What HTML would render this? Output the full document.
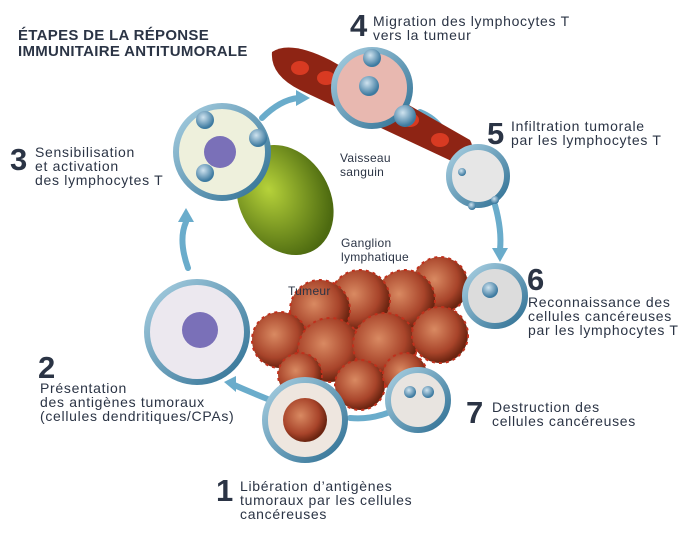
<!DOCTYPE html>
<html><head><meta charset="utf-8"><style>
body{margin:0;background:#fff;}
svg{display:block}
text{font-family:"Liberation Sans",sans-serif;fill:#2b3445}
.l{font-size:14px;letter-spacing:0.7px}
.s{font-size:12px;letter-spacing:0.3px}
.n{font-size:31px;font-weight:bold}
</style></head><body>
<svg width="687" height="539" viewBox="0 0 687 539" xmlns="http://www.w3.org/2000/svg">
<defs>
<radialGradient id="tum" cx="40%" cy="40%" r="60%"><stop offset="0" stop-color="#d98a62"/><stop offset="0.7" stop-color="#a8442a"/><stop offset="1" stop-color="#6b2410"/></radialGradient>
<radialGradient id="tc" cx="40%" cy="35%" r="60%"><stop offset="0" stop-color="#cfe3ef"/><stop offset="1" stop-color="#3d7aa0"/></radialGradient>
<linearGradient id="ring" x1="0" y1="0" x2="1" y2="1"><stop offset="0" stop-color="#a9d0e2"/><stop offset="1" stop-color="#2e6f93"/></linearGradient>
<radialGradient id="gn" cx="40%" cy="35%" r="65%"><stop offset="0" stop-color="#b6d23a"/><stop offset="1" stop-color="#4d6a10"/></radialGradient>
</defs>
<g fill="none" stroke="#6aaccb" stroke-width="6" stroke-linecap="round">
<path d="M188 268 Q178 240 186 222"/>
<path d="M262 118 Q280 100 298 98"/>
<path d="M420 112 Q440 120 448 140"/>
<path d="M495 205 Q502 230 500 250"/>
<path d="M270 400 Q250 392 232 384"/>
<path d="M390 412 Q370 420 350 418"/>
</g>
<g fill="#6aaccb">
<polygon points="178,222 194,222 186,208"/>
<polygon points="296,90 310,98 296,106"/>
<polygon points="440,140 456,140 450,154"/>
<polygon points="492,248 508,248 500,262"/>
<polygon points="236,376 236,392 224,382"/>
</g>
<path d="M272 52 Q290 40 330 60 L470 140 Q478 155 460 165 L300 90 Q270 75 272 52Z" fill="#8e2414"/>
<g fill="#d83a22"><ellipse cx="300" cy="68" rx="9" ry="7"/><ellipse cx="326" cy="78" rx="9" ry="7"/><ellipse cx="410" cy="120" rx="9" ry="7"/><ellipse cx="440" cy="140" rx="9" ry="7"/></g>
<ellipse cx="285" cy="200" rx="45" ry="58" transform="rotate(-30 285 200)" fill="url(#gn)"/>
<g fill="url(#tum)" stroke="#c0301c" stroke-width="2" stroke-dasharray="3 4">
<circle cx="440" cy="285" r="28"/><circle cx="405" cy="300" r="30"/><circle cx="360" cy="300" r="30"/><circle cx="320" cy="310" r="30"/>
<circle cx="280" cy="340" r="28"/><circle cx="330" cy="350" r="32"/><circle cx="385" cy="345" r="32"/><circle cx="440" cy="335" r="28"/>
<circle cx="360" cy="385" r="25"/><circle cx="405" cy="375" r="22"/><circle cx="300" cy="375" r="22"/>
</g>
<g stroke="url(#ring)" stroke-width="6">
<circle cx="222" cy="152" r="46" fill="#eef0dc"/>
<circle cx="372" cy="88" r="38" fill="#e8b8b0"/>
<circle cx="478" cy="176" r="29" fill="#e6e6e6"/>
<circle cx="495" cy="296" r="30" fill="#dcdcdc"/>
<circle cx="418" cy="400" r="30" fill="#e8e4e0"/>
<circle cx="305" cy="420" r="40" fill="#eee6df"/>
<circle cx="197" cy="332" r="50" fill="#ece8ef"/>
</g>
<circle cx="220" cy="152" r="16" fill="#7a70b8"/>
<circle cx="200" cy="330" r="18" fill="#7a70b8"/>
<circle cx="305" cy="420" r="22" fill="url(#tum)"/>
<g fill="url(#tc)">
<circle cx="205" cy="120" r="9"/><circle cx="258" cy="138" r="9"/><circle cx="205" cy="173" r="9"/>
<circle cx="372" cy="58" r="9"/><circle cx="369" cy="86" r="10"/><circle cx="405" cy="116" r="11"/>
<circle cx="462" cy="172" r="4"/><circle cx="495" cy="200" r="4"/><circle cx="472" cy="206" r="4"/>
<circle cx="490" cy="290" r="8"/><circle cx="410" cy="392" r="6"/><circle cx="428" cy="392" r="6"/>
</g>
<text x="18" y="40" style="font-size:15px;font-weight:bold;letter-spacing:0.3px">ÉTAPES DE LA RÉPONSE</text>
<text x="18" y="56" style="font-size:15px;font-weight:bold;letter-spacing:0.3px">IMMUNITAIRE ANTITUMORALE</text>
<text class="n" x="350" y="36">4</text>
<text class="l" x="373" y="26">Migration des lymphocytes T</text>
<text class="l" x="373" y="40">vers la tumeur</text>
<text class="n" x="10" y="170">3</text>
<text class="l" x="35" y="157">Sensibilisation</text>
<text class="l" x="35" y="171">et activation</text>
<text class="l" x="35" y="185">des lymphocytes T</text>
<text class="n" x="487" y="144">5</text>
<text class="l" x="511" y="131">Infiltration tumorale</text>
<text class="l" x="511" y="145">par les lymphocytes T</text>
<text class="s" x="340" y="162">Vaisseau</text>
<text class="s" x="340" y="176">sanguin</text>
<text class="s" x="341" y="247">Ganglion</text>
<text class="s" x="341" y="261">lymphatique</text>
<text class="s" x="288" y="295">Tumeur</text>
<text class="n" x="527" y="290">6</text>
<text class="l" x="528" y="307">Reconnaissance des</text>
<text class="l" x="528" y="321">cellules cancéreuses</text>
<text class="l" x="528" y="335">par les lymphocytes T</text>
<text class="n" x="38" y="378">2</text>
<text class="l" x="40" y="393">Présentation</text>
<text class="l" x="40" y="407">des antigènes tumoraux</text>
<text class="l" x="40" y="421">(cellules dendritiques/CPAs)</text>
<text class="n" x="466" y="423">7</text>
<text class="l" x="492" y="412">Destruction des</text>
<text class="l" x="492" y="426">cellules cancéreuses</text>
<text class="n" x="216" y="501">1</text>
<text class="l" x="240" y="491">Libération d’antigènes</text>
<text class="l" x="240" y="505">tumoraux par les cellules</text>
<text class="l" x="240" y="519">cancéreuses</text>
</svg>
</body></html>
